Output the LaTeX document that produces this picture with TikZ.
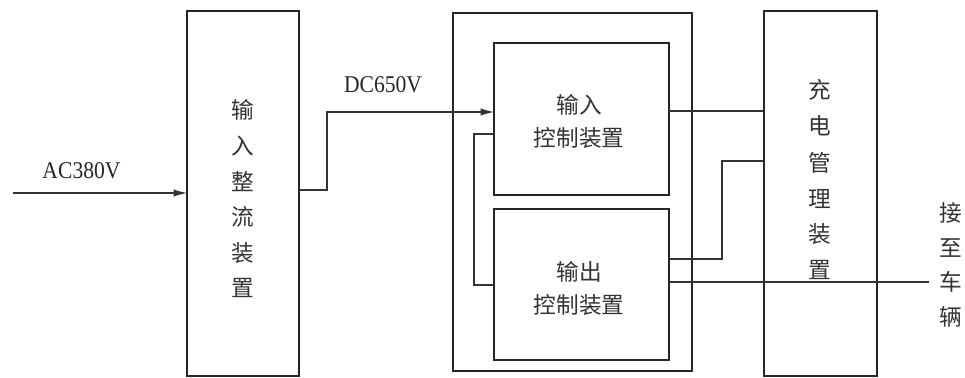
\documentclass[tikz,border=0pt]{standalone}
\usepackage{fontspec}
\setmainfont{Liberation Serif}
\newfontfamily\cjk{Noto Sans CJK SC}
\usetikzlibrary{arrows.meta}
\begin{document}
\begin{tikzpicture}[x=0.75pt,y=-0.75pt,
  box/.style={draw=black!85,line width=1.5pt,inner sep=0pt,outer sep=0pt},
  conn/.style={draw=black!80,line width=0.9pt},
  arr/.style={-{Latex[length=10pt,width=5.5pt]}},
  cn/.style={font=\cjk\fontsize{17}{26}\selectfont,align=center,inner sep=0pt,text=black!80},
  cn2/.style={font=\cjk\fontsize{17}{24.75}\selectfont,align=center,inner sep=0pt,text=black!80},
  lat/.style={font=\fontsize{18}{20}\selectfont,inner sep=0pt,xscale=0.9,text=black!85}]
\useasboundingbox (0,0) rectangle (965,378);
% boxes
\node[box,minimum width=84pt,minimum height=273.75pt] (L) at (243,193.5) {};
\node[box,minimum width=179.25pt,minimum height=268.5pt] (M) at (572.5,192) {};
\node[box,minimum width=131.25pt,minimum height=114pt] (T) at (581.5,119) {};
\node[box,minimum width=131.25pt,minimum height=113.25pt] (B) at (581.5,284.5) {};
\node[box,minimum width=84.75pt,minimum height=273.75pt] (R) at (820.5,193.5) {};
% texts
\node[cn,font=\cjk\fontsize{17}{26.7}\selectfont] (Lt) at (243,199) {输\\入\\整\\流\\装\\置};
\node[cn,font=\cjk\fontsize{17}{27}\selectfont] (Rt) at (820,180) {充\\电\\管\\理\\装\\置};
\node[cn2] (Tt) at (579,121.5) {输入\\控制装置};
\node[cn2] (Bt) at (579,288.5) {输出\\控制装置};
\node[cn] (V) at (951,265) {接\\至\\车\\辆};
\node[lat] (ac) at (81.5,171) {AC380V};
\node[lat] (dc) at (383,85) {DC650V};
% connectors
\coordinate (acs) at (13,193);
\coordinate (dcx) at (327,112);
\coordinate (fbx) at (474,134);
\coordinate (ox) at (722,259);
\coordinate (oy) at (722,161);
\coordinate (out) at (929,282);
\draw[conn,arr] (acs) -- (L.west |- acs);
\draw[conn,arr] (L.east |- 0,190) -| (dcx) -- (T.west |- dcx);
\draw[conn] (T.west |- fbx) -- (fbx) |- (B.west |- 0,285);
\draw[conn] (T.east |- 0,111) -- (R.west |- 0,111);
\draw[conn] (B.east |- ox) -- (ox) -- (oy) -- (R.west |- oy);
\draw[conn] (B.east |- out) -- (out);
\end{tikzpicture}
\end{document}
